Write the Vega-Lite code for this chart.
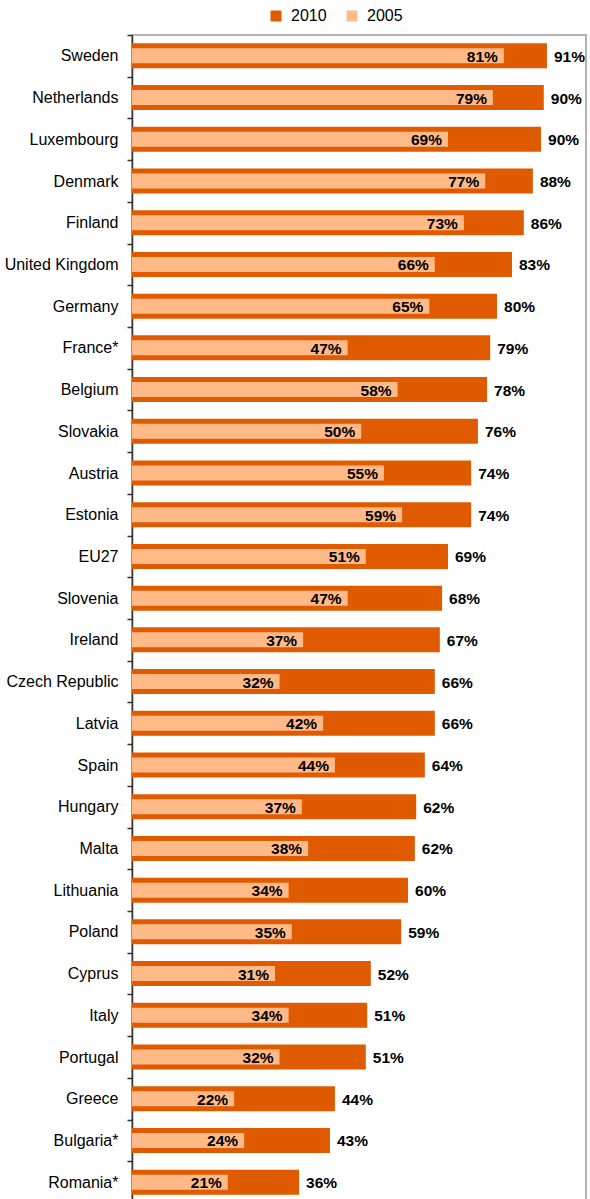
{
  "$schema": "https://vega.github.io/schema/vega-lite/v6.json",
  "width": 454,
  "height": 1168,
  "autosize": {"type": "none"},
  "padding": {"left": 132, "top": 35, "right": 4, "bottom": 0},
  "background": "#ffffff",
  "config": {
    "font": "Liberation Sans",
    "view": {"stroke": "#B3B3B3", "strokeWidth": 2},
    "axis": {"labelFont": "Liberation Sans", "labelColor": "#000000"},
    "legend": {"labelFont": "Liberation Sans"}
  },
  "data": {
    "values": [
      {"country": "Sweden", "v10": 0.914, "v05": 0.819, "l10": "91%", "l05": "81%"},
      {"country": "Netherlands", "v10": 0.907, "v05": 0.795, "l10": "90%", "l05": "79%"},
      {"country": "Luxembourg ", "v10": 0.901, "v05": 0.696, "l10": "90%", "l05": "69%"},
      {"country": "Denmark", "v10": 0.883, "v05": 0.778, "l10": "88%", "l05": "77%"},
      {"country": "Finland", "v10": 0.863, "v05": 0.731, "l10": "86%", "l05": "73%"},
      {"country": "United Kingdom", "v10": 0.837, "v05": 0.667, "l10": "83%", "l05": "66%"},
      {"country": "Germany", "v10": 0.804, "v05": 0.655, "l10": "80%", "l05": "65%"},
      {"country": "France*", "v10": 0.789, "v05": 0.475, "l10": "79%", "l05": "47%"},
      {"country": "Belgium", "v10": 0.782, "v05": 0.585, "l10": "78%", "l05": "58%"},
      {"country": "Slovakia", "v10": 0.762, "v05": 0.505, "l10": "76%", "l05": "50%"},
      {"country": "Austria", "v10": 0.747, "v05": 0.555, "l10": "74%", "l05": "55%"},
      {"country": "Estonia", "v10": 0.747, "v05": 0.595, "l10": "74%", "l05": "59%"},
      {"country": "EU27", "v10": 0.696, "v05": 0.515, "l10": "69%", "l05": "51%"},
      {"country": "Slovenia", "v10": 0.683, "v05": 0.475, "l10": "68%", "l05": "47%"},
      {"country": "Ireland", "v10": 0.678, "v05": 0.377, "l10": "67%", "l05": "37%"},
      {"country": "Czech Republic", "v10": 0.667, "v05": 0.325, "l10": "66%", "l05": "32%"},
      {"country": "Latvia", "v10": 0.667, "v05": 0.421, "l10": "66%", "l05": "42%"},
      {"country": "Spain", "v10": 0.645, "v05": 0.447, "l10": "64%", "l05": "44%"},
      {"country": "Hungary", "v10": 0.626, "v05": 0.374, "l10": "62%", "l05": "37%"},
      {"country": "Malta", "v10": 0.623, "v05": 0.388, "l10": "62%", "l05": "38%"},
      {"country": "Lithuania", "v10": 0.608, "v05": 0.345, "l10": "60%", "l05": "34%"},
      {"country": "Poland", "v10": 0.593, "v05": 0.352, "l10": "59%", "l05": "35%"},
      {"country": "Cyprus", "v10": 0.526, "v05": 0.315, "l10": "52%", "l05": "31%"},
      {"country": "Italy", "v10": 0.518, "v05": 0.345, "l10": "51%", "l05": "34%"},
      {"country": "Portugal", "v10": 0.515, "v05": 0.325, "l10": "51%", "l05": "32%"},
      {"country": "Greece", "v10": 0.447, "v05": 0.225, "l10": "44%", "l05": "22%"},
      {"country": "Bulgaria*", "v10": 0.436, "v05": 0.247, "l10": "43%", "l05": "24%"},
      {"country": "Romania*", "v10": 0.368, "v05": 0.211, "l10": "36%", "l05": "21%"}
    ]
  },
  "encoding": {
    "y": {
      "field": "country",
      "type": "nominal",
      "sort": null,
      "scale": {"paddingInner": 0, "paddingOuter": 0},
      "axis": {
        "title": null,
        "labelFontSize": 16,
        "labelPadding": 9,
        "tickSize": 5,
        "tickBand": "extent",
        "tickColor": "#333333",
        "domainColor": "#333333",
        "domainWidth": 1.5,
        "tickWidth": 1.5,
        "labelLimit": 200
      }
    }
  },
  "layer": [
    {
      "mark": {"type": "bar", "size": 25},
      "encoding": {
        "x": {"field": "v10", "type": "quantitative", "scale": {"domain": [0, 1], "nice": false}, "axis": null},
        "color": {
          "datum": "2010",
          "scale": {"domain": ["2010", "2005"], "range": ["#E05A00", "#FFBA88"]},
          "legend": {
            "title": null,
            "orient": "none",
            "legendX": 136,
            "legendY": -27,
            "direction": "horizontal",
            "symbolType": "square",
            "symbolSize": 121,
            "symbolStrokeWidth": 0,
            "labelFontSize": 16,
            "labelColor": "#000000",
            "labelOffset": 7,
            "columnPadding": 17,
            "padding": 0
          }
        }
      }
    },
    {
      "mark": {"type": "bar", "size": 15},
      "encoding": {
        "x": {"field": "v05", "type": "quantitative"},
        "color": {"datum": "2005"}
      }
    },
    {
      "mark": {"type": "text", "align": "right", "baseline": "middle", "dx": -6, "dy": 1, "fontSize": 15.5, "fontWeight": "bold", "color": "#000000"},
      "encoding": {
        "x": {"field": "v05", "type": "quantitative"},
        "text": {"field": "l05"}
      }
    },
    {
      "mark": {"type": "text", "align": "left", "baseline": "middle", "dx": 7, "dy": 1, "fontSize": 15.5, "fontWeight": "bold", "color": "#000000"},
      "encoding": {
        "x": {"field": "v10", "type": "quantitative"},
        "text": {"field": "l10"}
      }
    }
  ]
}
